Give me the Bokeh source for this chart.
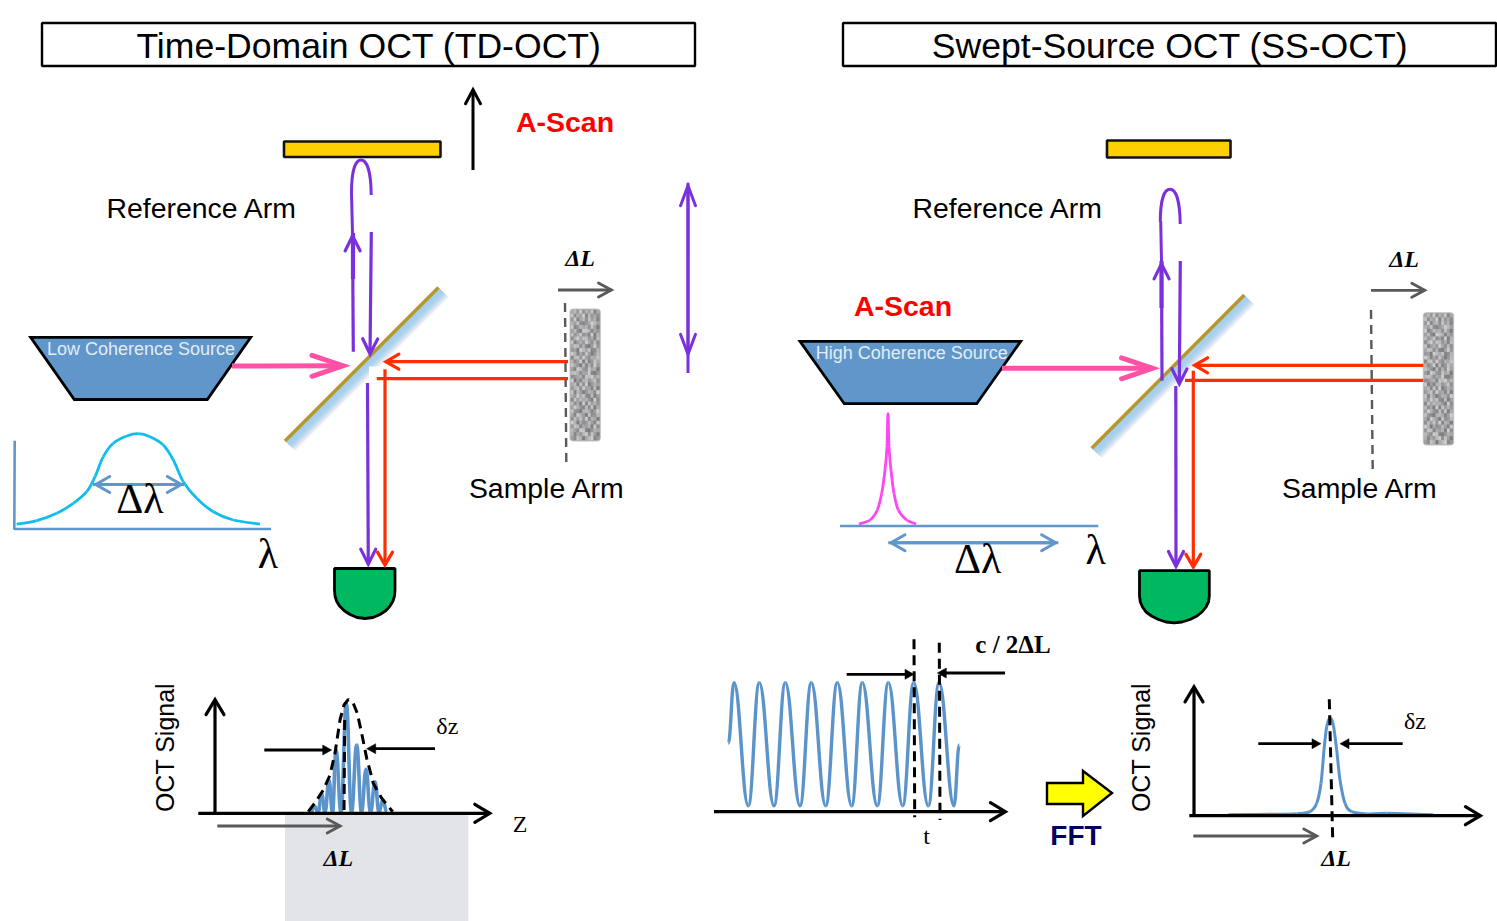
from bokeh.plotting import figure
from bokeh.models import Range1d, ColumnDataSource
from bokeh.core.properties import value
from bokeh.embed import file_html
from bokeh.resources import INLINE

# ---------- diagram data (reference picture coordinates) ----------
TITLES = ["Time-Domain OCT (TD-OCT)", "Swept-Source OCT (SS-OCT)"]
TITLE_X = [369, 1170]
TITLE_Y = [46, 46]
BOX_L = [42, 843]
BOX_R = [695, 1496]
BOX_T = [23, 23]
BOX_B = [66, 66]

MIRROR_BAR_L = [284, 1107]
MIRROR_BAR_R = [440.5, 1230.5]
MIRROR_BAR_T = [141.5, 140.5]
MIRROR_BAR_B = [157, 157.5]

SPLITTER_GOLD = [[(285, 441), (438.5, 287.5)], [(1091.7, 448.3), (1244.3, 295)]]
SPLITTER_DEPTH = [(10, 9.5), (10, 9.5)]
SPLITTER_SHADES = ["#a6cfee", "#a6cfee", "#a6cfee", "#a8d0ee", "#aad2ef", "#afd4ef", "#b8d8f0",
                   "#c6ddf1", "#d6e3f2", "#e6e9f4", "#f4f2f8"]

TRAP_X = [[30.7, 250.7, 207.3, 74.3], [800, 1020.7, 976.7, 844.3]]
TRAP_Y = [[337.3, 337.3, 399.5, 399.5], [341.3, 341.3, 403.7, 403.7]]

DET_L_X = [334.5, 395, 395, 394.5, 393, 390, 386, 380, 373, 365, 357, 350, 344, 339.5, 336.5, 335, 334.5]
DET_L_Y = [568.5, 568.5, 590, 596, 601, 606, 610.5, 614.5, 617.5, 618.5, 617.5, 614.5, 610.5, 606, 601, 596, 590]
DET_R_X = [1139.5, 1209.3, 1209.3, 1208.5, 1206, 1202, 1197, 1190, 1182, 1174.3, 1166, 1158.5, 1151.5, 1146, 1142.5, 1140.3, 1139.5]
DET_R_Y = [570.7, 570.7, 596, 602, 607, 612, 616, 619.5, 622, 622.8, 622, 619.5, 616, 612, 607, 602, 596]

# x0, y0, x1, y1 (tip)
ARROW_UP_SCAN = [(473, 170, 473, 87)]
ARROWS_BLACK = [(264.3, 750, 331.7, 750), (435, 748.7, 366.7, 748.7),
                (846.7, 674.3, 914, 674.3), (1005, 673, 937.3, 673),
                (1258.3, 743.7, 1321, 743.7), (1402.7, 743.7, 1340, 743.7)]
AXES_BLACK = [(215, 812, 215, 696.7), (198.3, 813.3, 492.7, 813.3), (714, 811.7, 1008.3, 811.7),
              (1194, 815, 1194, 684), (1189.3, 815.7, 1483.3, 815.7)]
ARROWS_GREY = [(558, 290, 614, 290), (1371, 290.3, 1427.3, 290.3), (217.3, 826, 342.7, 826), (1193.3, 836, 1319.3, 836)]
ARROWS_PINK = [(232, 366, 347.5, 365.7), (1002, 368.3, 1157, 368.3)]
ARROWS_PURPLE_DOWN = [(371.3, 232, 370, 356.7), (367.5, 383, 368.3, 567), (1180.3, 261, 1179.3, 386.7), (1175.8, 386, 1176, 569.3)]
ARROWS_PURPLE_UP = [(353.3, 351.7, 352.5, 233), (1162, 380.7, 1161.5, 261)]
SHAFT_THICK = [[(353, 233), (353, 279)], [(1161.5, 261), (1161.5, 308)]]
SHAFT_THIN = [[(352.5, 233), (351.5, 193)], [(1161.5, 261), (1160.7, 221)]]
SCAN_ARROW = (688, 373, 688, 183, 357)
ARROWS_RED = [(568, 361.7, 383, 361.7), (385, 369.3, 385, 568), (1423.3, 365.3, 1191.7, 365.3), (1193.3, 370.7, 1193.3, 570)]
LINES_RED = [[(568, 378.7), (376.7, 378.7)], [(1423.3, 380.3), (1185, 380.3)]]
ARROWS_BLUE_DOUBLE = [(93, 484.5, 184, 484.5), (888.3, 542.7, 1058.3, 542.7)]

LOOPS = [[(351.5, 193), (351.5, 172), (355, 160), (361, 160), (367, 160), (371, 172), (371.2, 195)],
         [(1160.3, 221.7), (1160.3, 201), (1164, 189.3), (1170, 189.3), (1176, 189.3), (1180, 201), (1180.2, 224)]]

DASH_GREY = [[(565, 303), (566.3, 463)], [(1371, 310), (1372.7, 469.3)]]
DASH_BLACK = [[(344.7, 720), (344, 812)], [(914, 639.3), (914.7, 817.3)], [(939.3, 642.7), (940, 820)], [(1329.3, 699.3), (1332.7, 840)]]

SAMPLE_L = [570, 1423.3]
SAMPLE_R = [600.3, 1453.7]
SAMPLE_T = [309, 312.7]
SAMPLE_B = [441, 445]
GRAIN = ["5739264815", "8264917352", "3915728461", "6482135974", "9137562840", "4720986153",
         "7358241906", "2694873517", "8146395272", "5872610493", "3409758126", "9615284037",
         "1783942658", "6249071385", "8530716294", "4197328560", "7862549103", "2356187946",
         "9041673582", "5718290364", "3682945170", "8174036529", "6395821704", "1847563092",
         "7250918463", "4963172805", "8320675149", "5196408237", "2748391650", "9605237418",
         "3871546092", "7429810365", "6153792840", "4286057913"]

SPEC_L_AXIS = [(14.7, 440.7), (14.3, 529), (271, 529)]
SPEC_L_X = [16.7, 36.7, 56.7, 73.3, 86.7, 95, 103.3, 113.3, 126.7, 138.3, 150, 163.3, 173.3, 183.3, 196.7, 213.3, 233.3, 260]
SPEC_L_Y = [524.3, 520.7, 513.3, 503.3, 491.7, 476.7, 456.7, 443.3, 436, 433.7, 436.7, 445, 460, 481.7, 498.3, 511.7, 520, 524]
SPEC_R_AXIS = [(840, 526), (1098.3, 526)]
SPEC_R_X = [859, 870, 877.3, 881.7, 885, 887, 887.7, 888.3, 889, 891, 894, 898.3, 906.7, 916]
SPEC_R_Y = [524, 520, 510, 493.3, 470, 446.7, 417.3, 417.3, 446.7, 470, 493.3, 510, 520, 524]

FRINGE_X = [310, 315, 318, 321.7, 325, 329, 332.5, 336, 341, 346.3, 351.5, 356.7, 361.5, 366, 370.5, 375, 379, 382.7, 387]
FRINGE_Y = [812.5, 806.7, 812.5, 794, 812.5, 780, 812.5, 750, 812.5, 703.3, 812.5, 745, 812.5, 769.3, 812.5, 781.7, 812.5, 800, 812.5]
ENVELOPE_X = [308.3, 315, 323.3, 330, 335, 340, 344, 348.3, 353.3, 357.3, 361.7, 366.7, 373.3, 381.7, 392.7]
ENVELOPE_Y = [811.7, 802.7, 790, 775, 753.3, 720, 705, 699.3, 703.3, 713.3, 733.3, 758.3, 783.3, 798.3, 811.7]

WAVE_X = [728.3, 734, 748.3, 759.3, 774, 785.3, 800, 811.3, 825.7, 837.3, 851.7, 862.3, 877.3, 888.3, 902.7, 913.7, 928.3, 939, 954, 959.3]
WAVE_Y = [743.3, 682.7, 805.7, 682.7, 805.7, 682.7, 805.7, 682.7, 805.7, 682.7, 805.7, 682.7, 805.7, 682.7, 805.7, 682.7, 805.7, 682.7, 805.7, 745]

PEAK_X = [1228.3, 1270, 1296.7, 1310, 1316.7, 1321, 1324, 1326.7, 1330, 1333.3, 1336.7, 1340, 1345, 1351.7, 1366.7, 1386.7, 1433.3]
PEAK_Y = [814.7, 814.3, 813.7, 811.7, 803.3, 783.3, 750, 726.7, 718.3, 725, 750, 780, 803.3, 811.7, 814, 813.3, 814.7]

FFT_X = [1047, 1083, 1083, 1112, 1083, 1083, 1047]
FFT_Y = [783, 783, 771, 793, 816, 804, 804]

GREY_BLOCK = (285, 468.3, 814, 921)

SANS_LABELS = [("Reference Arm", 202, 208), ("Reference Arm", 1008, 208), ("Sample Arm", 547, 488), ("Sample Arm", 1360, 488)]
SOURCE_LABELS = [("Low Coherence Source", 141, 349), ("High Coherence Source", 911.7, 353)]
SCAN_LABELS = [("A-Scan", 565, 122), ("A-Scan", 903, 305.7)]
SIGNAL_LABELS = [("OCT Signal", 165, 747.5), ("OCT Signal", 1140.7, 747.5)]
DL_LABELS = [("ΔL", 580, 258), ("ΔL", 1404, 259), ("ΔL", 338.3, 858), ("ΔL", 1336, 858)]
BIG_SERIF = [("Δλ", 140, 499), ("Δλ", 977.7, 559), ("λ", 268, 554), ("λ", 1095.7, 550)]
SMALL_SERIF = [("δz", 447.3, 725.7), ("δz", 1415, 721), ("Z", 520, 824), ("t", 926.7, 835.7)]
FREQ_LABEL = [("c / 2ΔL", 1013, 644)]
FFT_LABEL = [("FFT", 1076, 835)]

# ---------- drawing ----------
p = figure(width=1497, height=921, x_range=Range1d(0.5, 1497.5), y_range=Range1d(921.5, 0.5),
           output_backend="svg", toolbar_location=None, min_border=0)
p.axis.visible = False
p.grid.visible = False
p.outline_line_color = None

PURPLE = "#7a30dc"
RED = "#ff2d00"
PINK = "#ff52a6"
STEEL = "#6096c9"
DARK = "#595959"


def polyl(pts, **kw):
    p.line([q[0] for q in pts], [q[1] for q in pts], **kw)


def arrow(a, color, w, hl, hw, cap="round", solid=False):
    x0, y0, x1, y1 = a
    d = ((x1 - x0) ** 2 + (y1 - y0) ** 2) ** 0.5
    ux, uy = (x1 - x0) / d, (y1 - y0) / d
    if not solid:
        x1, y1 = x1 - ux * w * 0.9, y1 - uy * w * 0.9
    polyl([(x0, y0), (x1 - ux * (hl * 0.5 if solid else 0), y1 - uy * (hl * 0.5 if solid else 0))],
          line_color=color, line_width=w)
    hx = [x1 - ux * hl - uy * hw, x1, x1 - ux * hl + uy * hw]
    hy = [y1 - uy * hl + ux * hw, y1, y1 - uy * hl - ux * hw]
    if solid:
        p.patch(hx, hy, fill_color=color, line_color=color, line_width=0.5)
    else:
        p.line(hx, hy, line_color=color, line_width=w, line_join="miter", line_cap=cap)


def smooth(xs, ys, color, w):
    x0, y0, x1, y1, c0x, c0y, c1x, c1y = [], [], [], [], [], [], [], []
    for i in range(len(xs) - 1):
        dx = xs[i + 1] - xs[i]
        x0.append(xs[i]); y0.append(ys[i]); x1.append(xs[i + 1]); y1.append(ys[i + 1])
        c0x.append(xs[i] + 0.42 * dx); c0y.append(ys[i])
        c1x.append(xs[i + 1] - 0.42 * dx); c1y.append(ys[i + 1])
    p.bezier(x0=x0, y0=y0, x1=x1, y1=y1, cx0=c0x, cy0=c0y, cx1=c1x, cy1=c1y, line_color=color, line_width=w)


def through(xs, ys, color, w):
    n = len(xs)
    x0, y0, x1, y1, c0x, c0y, c1x, c1y = [], [], [], [], [], [], [], []
    for i in range(n - 1):
        a, b = max(i - 1, 0), min(i + 2, n - 1)
        x0.append(xs[i]); y0.append(ys[i]); x1.append(xs[i + 1]); y1.append(ys[i + 1])
        c0x.append(xs[i] + (xs[i + 1] - xs[a]) / 6); c0y.append(ys[i] + (ys[i + 1] - ys[a]) / 6)
        c1x.append(xs[i + 1] - (xs[b] - xs[i]) / 6); c1y.append(ys[i + 1] - (ys[b] - ys[i]) / 6)
    p.bezier(x0=x0, y0=y0, x1=x1, y1=y1, cx0=c0x, cy0=c0y, cx1=c1x, cy1=c1y, line_color=color, line_width=w)


def labels(rows, font, size, color="#000000", style="normal", angle=0.0):
    src = ColumnDataSource(dict(t=[r[0] for r in rows], x=[r[1] for r in rows], y=[r[2] for r in rows]))
    p.text("x", "y", text="t", source=src, text_font=value(font), text_font_size=value(size),
           text_font_style=style, text_color=color, text_align="center", text_baseline="middle",
           angle=angle, angle_units="deg")


# grey block
p.quad(left=[GREY_BLOCK[0]], right=[GREY_BLOCK[1]], top=[GREY_BLOCK[2]], bottom=[GREY_BLOCK[3]],
       fill_color="#e2e4e8", line_color=None)

# title boxes
p.quad(left=BOX_L, right=BOX_R, top=BOX_T, bottom=BOX_B, fill_color="#ffffff", line_color="#000000", line_width=2.4)
labels(list(zip(TITLES, TITLE_X, TITLE_Y)), "Liberation Sans", "35.6px")

# reference mirrors
p.quad(left=MIRROR_BAR_L, right=MIRROR_BAR_R, top=MIRROR_BAR_T, bottom=MIRROR_BAR_B,
       fill_color="#ffd000", line_color="#111111", line_width=2.6)

# beam splitters
for seg, (ox, oy) in zip(SPLITTER_GOLD, SPLITTER_DEPTH):
    n = len(SPLITTER_SHADES)
    for i in reversed(range(n)):
        f = (i + 0.5) / n
        polyl([(seg[0][0] + ox * f, seg[0][1] + oy * f), (seg[1][0] + ox * f, seg[1][1] + oy * f)],
              line_color=SPLITTER_SHADES[i], line_width=2.0)
    polyl(seg, line_color="#b5972b", line_width=3.4)

# sources
p.patches(TRAP_X, TRAP_Y, fill_color=STEEL, line_color="#000000", line_width=2.8, line_join="miter")
labels(SOURCE_LABELS, "Liberation Sans", "18px", color="#e2edf7")

# detectors
p.patch(DET_L_X, DET_L_Y, fill_color="#00b860", line_color="#000000", line_width=2.8)
p.patch(DET_R_X, DET_R_Y, fill_color="#00b860", line_color="#000000", line_width=2.8)

# samples
for k in range(2):
    l, r, t, b = SAMPLE_L[k], SAMPLE_R[k], SAMPLE_T[k], SAMPLE_B[k]
    p.quad(left=[l], right=[r], top=[t], bottom=[b], fill_color="#a4a4a6", line_color="#c4c4c6",
           line_width=1, border_radius=3)
    ql, qr, qt, qb, qc = [], [], [], [], []
    rows, cols = len(GRAIN), len(GRAIN[0])
    for i, row in enumerate(GRAIN):
        for j, ch in enumerate(row):
            g = 125 + int(ch) * 9
            ql.append(l + 1 + (r - l - 2) * j / cols); qr.append(l + 1 + (r - l - 2) * (j + 1) / cols)
            qt.append(t + 1 + (b - t - 2) * i / rows); qb.append(t + 1 + (b - t - 2) * (i + 1) / rows)
            qc.append("#%02x%02x%02x" % (g, g, g + 2))
    p.quad(left=ql, right=qr, top=qt, bottom=qb, fill_color=qc, line_color=qc, line_width=0.3)

# white gap on the left splitter
p.quad(left=[369], right=[381], top=[366.5], bottom=[383], fill_color="#ffffff", line_color=None)

# dashed planes
for d in DASH_GREY:
    polyl(d, line_color=DARK, line_width=2.4, line_dash="9 6")

# beams
for a in ARROWS_PINK:
    arrow(a, PINK, 5, 31, 10.5)
for a in ARROWS_PURPLE_DOWN:
    arrow(a, PURPLE, 3.2, 15, 7.5)
for a in ARROWS_PURPLE_UP:
    arrow(a, PURPLE, 3.2, 15, 7.5)
for s in SHAFT_THICK:
    polyl(s, line_color=PURPLE, line_width=4.2)
for s in SHAFT_THIN:
    polyl(s, line_color=PURPLE, line_width=3)
for lp in LOOPS:
    p.bezier(x0=[lp[0][0], lp[3][0]], y0=[lp[0][1], lp[3][1]], x1=[lp[3][0], lp[6][0]], y1=[lp[3][1], lp[6][1]],
             cx0=[lp[1][0], lp[4][0]], cy0=[lp[1][1], lp[4][1]], cx1=[lp[2][0], lp[5][0]], cy1=[lp[2][1], lp[5][1]],
             line_color=PURPLE, line_width=3)
for a in ARROWS_RED:
    arrow(a, RED, 3.2, 13, 7.5)
for s in LINES_RED:
    polyl(s, line_color=RED, line_width=3.2)

# scan arrow (double heads)
sx0, sy0, sx1, sy1, sb = SCAN_ARROW
arrow((sx0, sy0, sx1, sy1), PURPLE, 3, 20, 7.5)
arrow((sx1, sy1, sx0, sb), PURPLE, 3, 20, 7.5)

# spectra
polyl(SPEC_L_AXIS, line_color=STEEL, line_width=2.6)
through(SPEC_L_X, SPEC_L_Y, "#10bdef", 2.8)
polyl(SPEC_R_AXIS, line_color=STEEL, line_width=2.6)
through(SPEC_R_X, SPEC_R_Y, "#ff46f2", 2.8)
for a in ARROWS_BLUE_DOUBLE:
    arrow(a, STEEL, 3, 14, 8)
    arrow((a[2], a[3], a[0], a[1]), STEEL, 3, 14, 8)

# signals
smooth(FRINGE_X, FRINGE_Y, "#5b93cb", 3.6)
smooth(WAVE_X, WAVE_Y, "#5b93cb", 3.4)
through(PEAK_X, PEAK_Y, "#5b93cb", 3)
p.line(ENVELOPE_X, ENVELOPE_Y, line_color="#000000", line_width=3, line_dash="10 6")
for d in DASH_BLACK:
    polyl(d, line_color="#000000", line_width=3, line_dash="10 6")

for a in AXES_BLACK:
    arrow(a, "#000000", 3.2, 15, 9, cap="round")
for a in ARROW_UP_SCAN:
    arrow(a, "#000000", 3, 14, 7.5, cap="round")
for a in ARROWS_BLACK:
    arrow(a, "#000000", 2.8, 9, 5, solid=True)
for a in ARROWS_GREY:
    arrow(a, DARK, 2.8, 13, 7)

# FFT
p.patch(FFT_X, FFT_Y, fill_color="#ffff00", line_color="#000000", line_width=2.4, line_join="miter")

# texts
labels(SANS_LABELS, "Liberation Sans", "28.4px")
labels(SCAN_LABELS, "Liberation Sans", "28.5px", color="#ff0000", style="bold")
labels(SIGNAL_LABELS, "Liberation Sans", "25px", angle=90)
labels(DL_LABELS, "Liberation Serif", "24px", style="bold italic")
labels(BIG_SERIF, "Liberation Serif", "42px")
labels(SMALL_SERIF, "Liberation Serif", "24px")
labels(FREQ_LABEL, "Liberation Serif", "25px", style="bold")
labels(FFT_LABEL, "Liberation Sans", "28px", color="#000060", style="bold")

open("out.html", "w").write(file_html(p, INLINE))
